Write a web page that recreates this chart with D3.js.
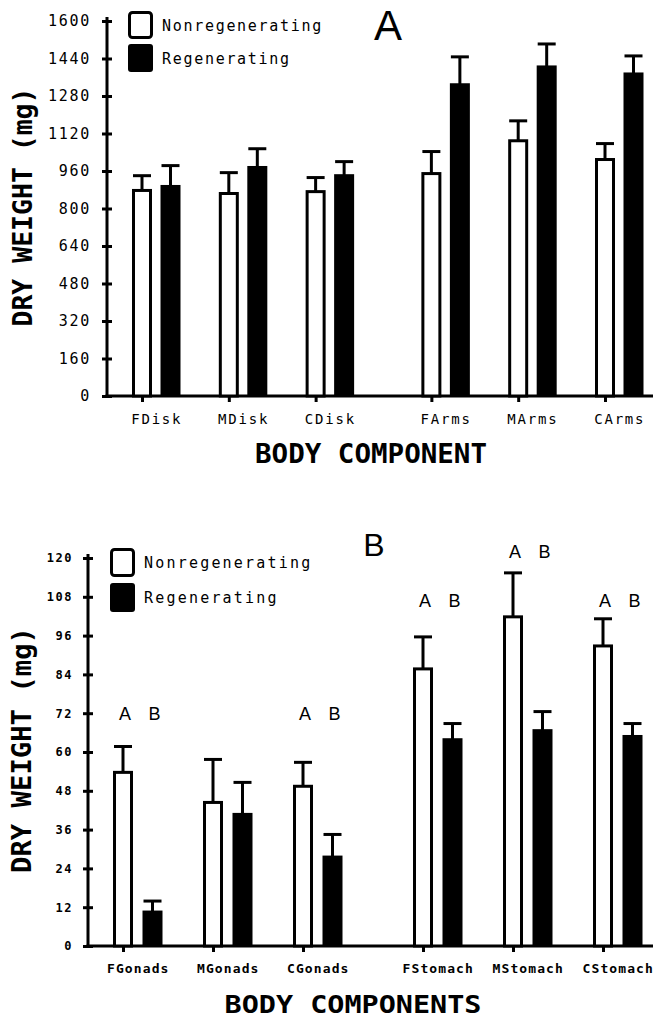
<!DOCTYPE html>
<html>
<head>
<meta charset="utf-8">
<script src="https://cdn.jsdelivr.net/npm/d3@7"></script>
<style>
  body { margin: 0; background: #fff; }
  svg { display: block; }
</style>
</head>
<body>
<div id="chart"></div>
<script>
// ---- panel A data (mg) ----
var catsA = ["FDisk", "MDisk", "CDisk", "FArms", "MArms", "CArms"];
var nonRegenA = [877, 864, 872, 949, 1089, 1009];
var nonRegenErrA = [63, 89, 60, 94, 85, 68];
var regenA = [894, 975, 940, 1328, 1404, 1374];
var regenErrA = [89, 80, 60, 119, 98, 77];
var ticksA = [0, 160, 320, 480, 640, 800, 960, 1120, 1280, 1440, 1600];

// ---- panel B data (mg) ----
var catsB = ["FGonads", "MGonads", "CGonads", "FStomach", "MStomach", "CStomach"];
var nonRegenB = [53.7, 44.4, 49.4, 85.7, 101.8, 92.8];
var nonRegenErrB = [8.0, 13.3, 7.4, 9.9, 13.6, 8.4];
var regenB = [10.5, 40.7, 27.5, 63.8, 66.6, 64.8];
var regenErrB = [3.4, 9.9, 7.0, 5.0, 5.9, 4.0];
var letterHeightB = [72, null, 72, 107, 122, 107]; // where the A / B marks sit
var ticksB = [0, 12, 24, 36, 48, 60, 72, 84, 96, 108, 120];

var legendLabels = ["Nonregenerating", "Regenerating"];

var W = 653, H = 1019;
var mono = "'DejaVu Sans Mono', monospace";

var svg = d3
  .select("#chart")
  .append("svg")
  .attr("width", W)
  .attr("height", H);

// slot index with a gap between the two groups of three
function slot(i) {
  return i + (i >= 3 ? 1 / 3 : 0);
}

function drawPanel(p) {
  var g = svg.append("g");

  var y = d3.scaleLinear().domain(p.yDomain).range(p.yRange);
  var x = d3.scaleLinear().domain([0, slot(5)]).range(p.xRange);
  var base = y(0);

  // y axis
  var yAxis = g
    .append("g")
    .attr("transform", "translate(" + p.axisX + ",0)")
    .call(
      d3.axisLeft(y)
        .tickValues(p.ticks)
        .tickFormat(d3.format("d"))
        .tickSizeOuter(0)
        .tickPadding(p.tickPad)
    );
  yAxis.select(".domain").remove();
  yAxis
    .selectAll(".tick line")
    .attr("x1", 5)
    .attr("x2", -5)
    .attr("stroke", "#000")
    .attr("stroke-width", 3);
  yAxis
    .selectAll(".tick text")
    .attr("fill", "#000")
    .style("font-family", mono)
    .style("font-size", p.tickFont + "px")
    .style("font-weight", p.tickWeight)
    .style("letter-spacing", p.tickSpacing + "px");

  g.append("line")
    .attr("x1", p.axisX)
    .attr("x2", p.axisX)
    .attr("y1", y(p.yDomain[1]) - 4)
    .attr("y2", base + 1.5)
    .attr("stroke", "#000")
    .attr("stroke-width", 3);

  // x axis
  var xAxis = g
    .append("g")
    .attr("transform", "translate(0," + base + ")")
    .call(
      d3.axisBottom(x)
        .tickValues(p.cats.map(function (d, i) { return slot(i); }))
        .tickFormat(function (d, i) { return p.cats[i]; })
        .tickSizeOuter(0)
        .tickSizeInner(6)
        .tickPadding(p.catPad)
    );
  xAxis.select(".domain").remove();
  xAxis.selectAll(".tick line").attr("stroke", "#000").attr("stroke-width", 3);
  xAxis
    .selectAll(".tick text")
    .attr("x", p.barOffset / 2)
    .attr("fill", "#000")
    .style("font-family", mono)
    .style("font-size", p.catFont + "px")
    .style("font-weight", p.catWeight)
    .style("letter-spacing", p.catSpacing + "px");

  g.append("line")
    .attr("x1", p.axisX - 1.5)
    .attr("x2", W)
    .attr("y1", base)
    .attr("y2", base)
    .attr("stroke", "#000")
    .attr("stroke-width", 3);

  var rows = p.cats.map(function (c, i) {
    return {
      cat: c,
      cx: x(slot(i)),
      n: p.nonRegen[i],
      nErr: p.nonRegenErr[i],
      r: p.regen[i],
      rErr: p.regenErr[i],
    };
  });

  // error bars first so the bars sit on top
  function errorBars(key, errKey, dx) {
    var eb = g
      .selectAll(".err-" + key)
      .data(rows)
      .enter()
      .append("g")
      .attr("class", "err-" + key);
    eb.append("line")
      .attr("x1", function (d) { return d.cx + dx; })
      .attr("x2", function (d) { return d.cx + dx; })
      .attr("y1", function (d) { return y(d[key]); })
      .attr("y2", function (d) { return y(d[key] + d[errKey]); })
      .attr("stroke", "#000")
      .attr("stroke-width", 3);
    eb.append("line")
      .attr("x1", function (d) { return d.cx + dx - 9; })
      .attr("x2", function (d) { return d.cx + dx + 9; })
      .attr("y1", function (d) { return y(d[key] + d[errKey]); })
      .attr("y2", function (d) { return y(d[key] + d[errKey]); })
      .attr("stroke", "#000")
      .attr("stroke-width", 3);
  }
  errorBars("n", "nErr", 0);
  errorBars("r", "rErr", p.barOffset);

  // Nonregenerating: open bars
  g.selectAll(".bar-n")
    .data(rows)
    .enter()
    .append("rect")
    .attr("class", "bar-n")
    .attr("x", function (d) { return d.cx - 8.5; })
    .attr("y", function (d) { return y(d.n); })
    .attr("width", 17)
    .attr("height", function (d) { return base - y(d.n); })
    .attr("fill", "#fff")
    .attr("stroke", "#000")
    .attr("stroke-width", 3);

  // Regenerating: solid bars
  g.selectAll(".bar-r")
    .data(rows)
    .enter()
    .append("rect")
    .attr("class", "bar-r")
    .attr("x", function (d) { return d.cx + p.barOffset - 10; })
    .attr("y", function (d) { return y(d.r) - 1.5; })
    .attr("width", 20)
    .attr("height", function (d) { return base - y(d.r) + 1.5; })
    .attr("fill", "#000");

  // legend
  var lg = g.append("g").attr("transform", "translate(" + p.legendX + "," + p.legendY + ")");
  lg.append("rect")
    .attr("x", 1.5).attr("y", 1.5)
    .attr("width", 22).attr("height", p.legendBox - 3)
    .attr("rx", 3)
    .attr("fill", "#fff").attr("stroke", "#000").attr("stroke-width", 3);
  lg.append("rect")
    .attr("x", 0).attr("y", p.legendStep)
    .attr("width", 25).attr("height", p.legendBox)
    .attr("rx", 3)
    .attr("fill", "#000");
  lg.selectAll(".legend-label")
    .data(legendLabels)
    .enter()
    .append("text")
    .attr("class", "legend-label")
    .attr("x", 34)
    .attr("y", function (d, i) { return i * p.legendStep + p.legendBox / 2 + 5.5; })
    .style("font-family", mono)
    .style("font-size", "15px")
    .style("letter-spacing", p.legendSpacing + "px")
    .text(function (d) { return d; });

  // panel letter
  g.append("text")
    .attr("x", p.titleX)
    .attr("y", p.titleY)
    .attr("text-anchor", "middle")
    .style("font-family", "'Liberation Sans', Arial, sans-serif")
    .style("font-size", p.titleSize + "px")
    .text(p.title);

  // axis titles
  g.append("text")
    .attr("transform", "translate(" + p.yTitleX + "," + p.yTitleY + ") rotate(-90)")
    .attr("text-anchor", "middle")
    .attr("textLength", p.yTitleLen)
    .attr("lengthAdjust", "spacingAndGlyphs")
    .style("font-family", mono)
    .style("font-weight", "bold")
    .style("font-size", "27px")
    .text("DRY WEIGHT (mg)");

  g.append("text")
    .attr("x", p.xTitleX)
    .attr("y", p.xTitleY)
    .attr("text-anchor", "middle")
    .attr("textLength", p.xTitleLen)
    .attr("lengthAdjust", "spacingAndGlyphs")
    .style("font-family", mono)
    .style("font-weight", "bold")
    .style("font-size", p.xTitleSize + "px")
    .text(p.xTitle);

  // significance marks (panel B)
  if (p.letterHeight) {
    var marks = [];
    rows.forEach(function (d, i) {
      if (p.letterHeight[i] == null) return;
      marks.push({ x: d.cx + 2, v: p.letterHeight[i], t: "A" });
      marks.push({ x: d.cx + p.barOffset + 2, v: p.letterHeight[i], t: "B" });
    });
    g.selectAll(".sig")
      .data(marks)
      .enter()
      .append("text")
      .attr("class", "sig")
      .attr("x", function (d) { return d.x; })
      .attr("y", function (d) { return y(d.v) + 6.5; })
      .attr("text-anchor", "middle")
      .style("font-family", "'Liberation Sans', Arial, sans-serif")
      .style("font-size", "18px")
      .text(function (d) { return d.t; });
  }
}

drawPanel({
  cats: catsA, nonRegen: nonRegenA, nonRegenErr: nonRegenErrA,
  regen: regenA, regenErr: regenErrA, ticks: ticksA,
  yDomain: [0, 1600], yRange: [396, 21], xRange: [142, 605],
  axisX: 107, barOffset: 28.5,
  tickPad: 10, tickFont: 15, tickWeight: "normal", tickSpacing: 1.7,
  catPad: 12, catFont: 14, catWeight: "normal", catSpacing: 1.8,
  legendX: 128, legendY: 11, legendBox: 28, legendStep: 33, legendSpacing: 1.7,
  title: "A", titleX: 388, titleY: 40, titleSize: 42,
  yTitleX: 32, yTitleY: 207, yTitleLen: 239,
  xTitle: "BODY COMPONENT", xTitleX: 371, xTitleY: 463, xTitleLen: 232, xTitleSize: 27,
});

drawPanel({
  cats: catsB, nonRegen: nonRegenB, nonRegenErr: nonRegenErrB,
  regen: regenB, regenErr: regenErrB, ticks: ticksB, letterHeight: letterHeightB,
  yDomain: [0, 120], yRange: [946, 558], xRange: [123, 603],
  axisX: 88, barOffset: 29.5,
  tickPad: 9, tickFont: 12, tickWeight: "bold", tickSpacing: 1.5,
  catPad: 12, catFont: 13, catWeight: "bold", catSpacing: 1.1,
  legendX: 110, legendY: 548, legendBox: 29, legendStep: 35, legendSpacing: 2.2,
  title: "B", titleX: 374, titleY: 556, titleSize: 32,
  yTitleX: 31, yTitleY: 750, yTitleLen: 246,
  xTitle: "BODY COMPONENTS", xTitleX: 353, xTitleY: 1013, xTitleLen: 257, xTitleSize: 25,
});
</script>
</body>
</html>
